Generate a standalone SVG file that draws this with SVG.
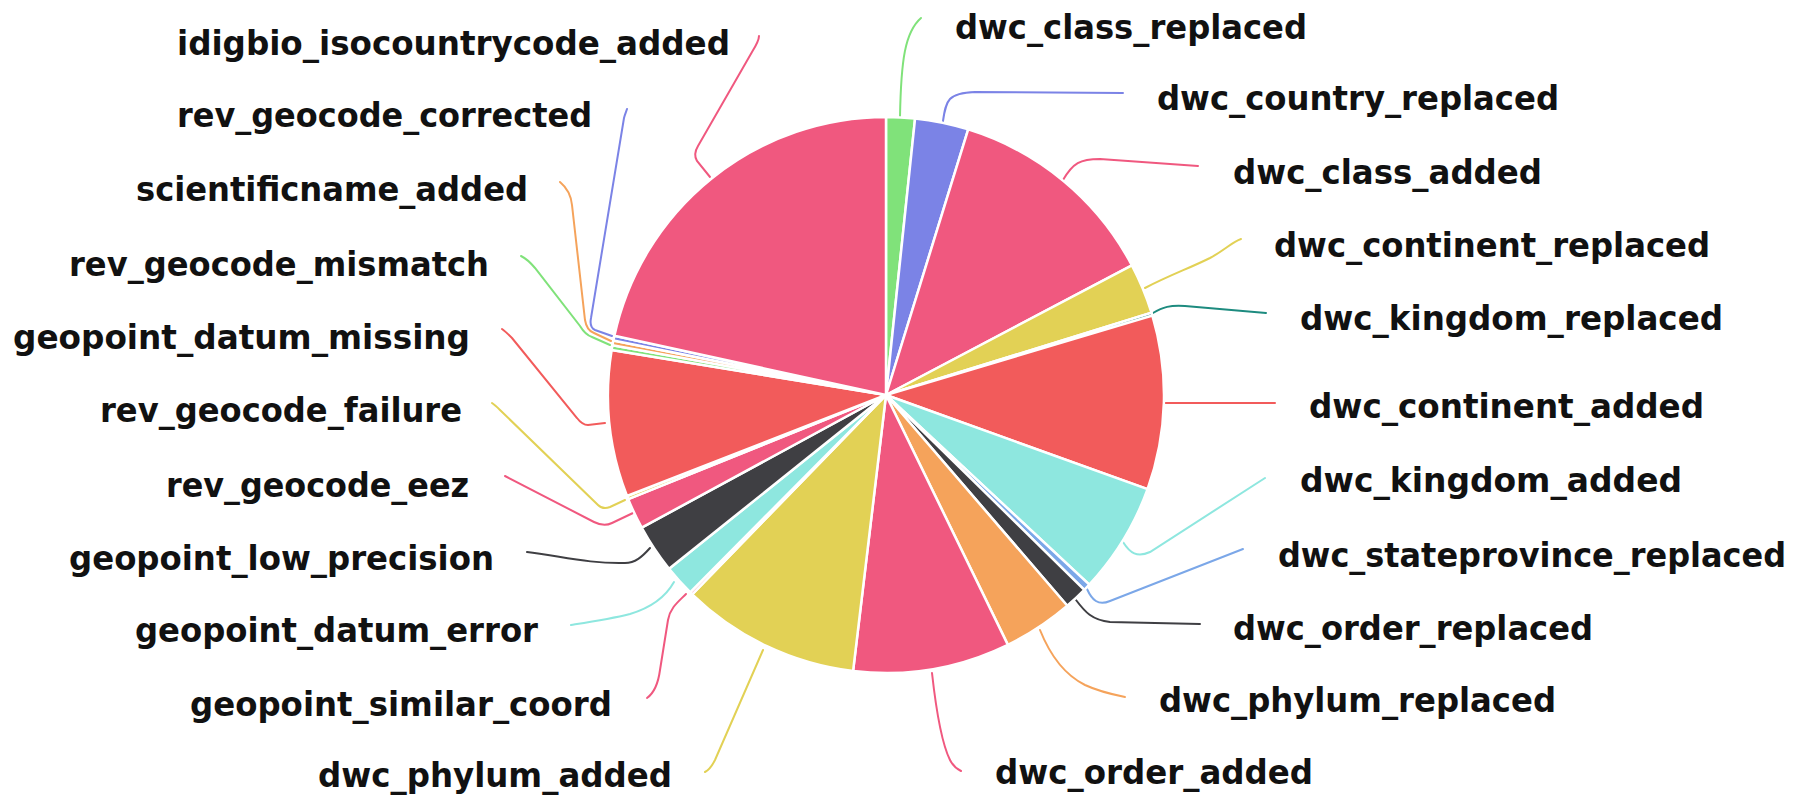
<svg xmlns="http://www.w3.org/2000/svg" width="1804" height="800" viewBox="0 0 1804 800">
<style>
.s{stroke:#fff;stroke-width:2.5;stroke-linejoin:round}
.t{font-family:"DejaVu Sans Condensed","DejaVu Sans","Liberation Sans",sans-serif;font-stretch:condensed;font-weight:bold;font-size:33px;fill:#111}
.l{fill:none;stroke-width:2;stroke-linecap:round}
.pk{fill:#f0587f}.gr{fill:#80e27a}.bp{fill:#7b83e6}.ye{fill:#e2d155}.rd{fill:#f25b5b}.cy{fill:#8ee7df}.dk{fill:#3f3f43}.or{fill:#f5a35b}.tl{fill:#1d8b7f}.lb{fill:#7ba7e8}
</style>
<rect width="1804" height="800" fill="#fff"/>
<g id="connectors">
<path class="l" stroke="#80e27a" d="M900,117 C901,60 905,32 921,18"/>
<path class="l" stroke="#7b83e6" d="M943,121 C946,100 948,93 975,92 L1123,93"/>
<path class="l" stroke="#f0587f" d="M1063,180 C1073,163 1080,159 1100,159 L1198,166"/>
<path class="l" stroke="#e2d155" d="M1145,288 C1170,275 1190,268 1210,258 C1225,250 1232,242 1241,239"/>
<path class="l" stroke="#1d8b7f" d="M1153,313 C1163,307 1170,305 1185,306 L1266,313"/>
<path class="l" stroke="#f25b5b" d="M1164,403 L1275,403"/>
<path class="l" stroke="#8ee7df" d="M1123,542 C1130,553 1137,558 1150,552 L1265,478"/>
<path class="l" stroke="#7ba7e8" d="M1087,589 C1092,600 1098,606 1110,601 L1243,549"/>
<path class="l" stroke="#3f3f43" d="M1076,600 C1085,612 1092,620 1110,622 L1200,624"/>
<path class="l" stroke="#f5a35b" d="M1040,630 C1050,655 1065,675 1085,685 C1100,692 1115,695 1125,697"/>
<path class="l" stroke="#f0587f" d="M932,673 C935,700 940,740 950,760 C953,766 957,769 961,771"/>
<path class="l" stroke="#e2d155" d="M763,650 L715,760 C712,766 709,770 705,772"/>
<path class="l" stroke="#f0587f" d="M686,594 C678,602 670,608 668,620 L660,670 C658,685 654,693 647,698"/>
<path class="l" stroke="#8ee7df" d="M674,582 C665,598 650,608 630,614 C610,619 590,622 571,625"/>
<path class="l" stroke="#3f3f43" d="M527,552 C560,556 590,564 625,563 C635,563 642,557 650,548"/>
<path class="l" stroke="#f0587f" d="M633,513 L612,523 C606,526 600,525 594,522 L505,476"/>
<path class="l" stroke="#e2d155" d="M625,500 L610,507 C605,509 601,508 598,505 L500,410 C497,407 495,405 492,403"/>
<path class="l" stroke="#f25b5b" d="M605,423 L588,425 C583,425 580,422 577,418 L512,338 C508,334 505,331 502,329"/>
<path class="l" stroke="#80e27a" d="M610,345 L592,337 C586,335 583,331 580,326 L535,268 C530,262 525,258 521,256"/>
<path class="l" stroke="#f5a35b" d="M611,341 L594,333 C588,331 586,326 585,320 L572,205 C571,195 566,187 560,182"/>
<path class="l" stroke="#7b83e6" d="M612,336 L595,330 C591,328 590,323 591,318 L624,118 C625,114 626,112 627,109"/>
<path class="l" stroke="#f0587f" d="M710,177 L697,161 C694,156 695,151 698,146 L752,52 C757,44 759,40 759,36"/>
</g>
<g id="n-dwc_class_replaced"><path class="s gr" d="M886,395 L886,117 A278,278 0 0 1 915.06,118.52 Z"/><text class="t" x="955" y="39" textLength="352" lengthAdjust="spacingAndGlyphs">dwc_class_replaced</text></g>
<g id="n-dwc_country_replaced"><path class="s bp" d="M886,395 L915.06,118.52 A278,278 0 0 1 968.21,129.43 Z"/><text class="t" x="1157" y="110" textLength="402" lengthAdjust="spacingAndGlyphs">dwc_country_replaced</text></g>
<g id="n-dwc_class_added"><path class="s pk" d="M886,395 L968.21,129.43 A278,278 0 0 1 1131.91,265.35 Z"/><text class="t" x="1233" y="184" textLength="309" lengthAdjust="spacingAndGlyphs">dwc_class_added</text></g>
<g id="n-dwc_continent_replaced"><path class="s ye" d="M886,395 L1131.91,265.35 A278,278 0 0 1 1151.57,312.79 Z"/><text class="t" x="1274" y="257" textLength="436" lengthAdjust="spacingAndGlyphs">dwc_continent_replaced</text></g>
<g id="n-dwc_kingdom_replaced"><path class="s tl" d="M886,395 L1151.57,312.79 A278,278 0 0 1 1152.41,315.58 Z"/><text class="t" x="1300" y="330" textLength="423" lengthAdjust="spacingAndGlyphs">dwc_kingdom_replaced</text></g>
<g id="n-dwc_continent_added"><path class="s rd" d="M886,395 L1152.41,315.58 A278,278 0 0 1 1147.56,489.17 Z"/><text class="t" x="1309" y="418" textLength="395" lengthAdjust="spacingAndGlyphs">dwc_continent_added</text></g>
<g id="n-dwc_kingdom_added"><path class="s cy" d="M886,395 L1147.56,489.17 A278,278 0 0 1 1089.32,584.60 Z"/><text class="t" x="1300" y="492" textLength="382" lengthAdjust="spacingAndGlyphs">dwc_kingdom_added</text></g>
<g id="n-dwc_stateprovince_replaced"><path class="s lb" d="M886,395 L1089.32,584.60 A278,278 0 0 1 1084.28,589.85 Z"/><text class="t" x="1278" y="567" textLength="508" lengthAdjust="spacingAndGlyphs">dwc_stateprovince_replaced</text></g>
<g id="n-dwc_order_replaced"><path class="s dk" d="M886,395 L1084.28,589.85 A278,278 0 0 1 1067.28,605.76 Z"/><text class="t" x="1233" y="640" textLength="360" lengthAdjust="spacingAndGlyphs">dwc_order_replaced</text></g>
<g id="n-dwc_phylum_replaced"><path class="s or" d="M886,395 L1067.28,605.76 A278,278 0 0 1 1007.87,644.86 Z"/><text class="t" x="1159" y="712" textLength="397" lengthAdjust="spacingAndGlyphs">dwc_phylum_replaced</text></g>
<g id="n-dwc_order_added"><path class="s pk" d="M886,395 L1007.87,644.86 A278,278 0 0 1 853.08,671.04 Z"/><text class="t" x="995" y="784" textLength="318" lengthAdjust="spacingAndGlyphs">dwc_order_added</text></g>
<g id="n-dwc_phylum_added"><path class="s ye" d="M886,395 L853.08,671.04 A278,278 0 0 1 692.19,594.30 Z"/><text class="t" x="318" y="787" textLength="354" lengthAdjust="spacingAndGlyphs">dwc_phylum_added</text></g>
<g id="n-geopoint_similar_coord"><path class="s pk" d="M886,395 L692.19,594.30 A278,278 0 0 1 690.11,592.26 Z"/><text class="t" x="190" y="716" textLength="422" lengthAdjust="spacingAndGlyphs">geopoint_similar_coord</text></g>
<g id="n-geopoint_datum_error"><path class="s cy" d="M886,395 L690.11,592.26 A278,278 0 0 1 669.04,568.82 Z"/><text class="t" x="135" y="642" textLength="403" lengthAdjust="spacingAndGlyphs">geopoint_datum_error</text></g>
<g id="n-geopoint_low_precision"><path class="s dk" d="M886,395 L669.04,568.82 A278,278 0 0 1 641.69,527.65 Z"/><text class="t" x="69" y="570" textLength="425" lengthAdjust="spacingAndGlyphs">geopoint_low_precision</text></g>
<g id="n-rev_geocode_eez"><path class="s pk" d="M886,395 L641.69,527.65 A278,278 0 0 1 628.24,499.14 Z"/><text class="t" x="166" y="497" textLength="303" lengthAdjust="spacingAndGlyphs">rev_geocode_eez</text></g>
<g id="n-rev_geocode_failure"><path class="s ye" d="M886,395 L628.24,499.14 A278,278 0 0 1 626.99,495.98 Z"/><text class="t" x="100" y="422" textLength="362" lengthAdjust="spacingAndGlyphs">rev_geocode_failure</text></g>
<g id="n-geopoint_datum_missing"><path class="s rd" d="M886,395 L626.99,495.98 A278,278 0 0 1 611.65,350.08 Z"/><text class="t" x="13" y="349" textLength="457" lengthAdjust="spacingAndGlyphs">geopoint_datum_missing</text></g>
<g id="n-rev_geocode_mismatch"><path class="s gr" d="M886,395 L611.65,350.08 A278,278 0 0 1 612.48,345.29 Z"/><text class="t" x="69" y="276" textLength="420" lengthAdjust="spacingAndGlyphs">rev_geocode_mismatch</text></g>
<g id="n-scientificname_added"><path class="s or" d="M886,395 L612.48,345.29 A278,278 0 0 1 613.39,340.53 Z"/><text class="t" x="136" y="201" textLength="392" lengthAdjust="spacingAndGlyphs">scientificname_added</text></g>
<g id="n-rev_geocode_corrected"><path class="s bp" d="M886,395 L613.39,340.53 A278,278 0 0 1 614.38,335.78 Z"/><text class="t" x="177" y="127" textLength="415" lengthAdjust="spacingAndGlyphs">rev_geocode_corrected</text></g>
<g id="n-idigbio_isocountrycode_added"><path class="s pk" d="M886,395 L614.38,335.78 A278,278 0 0 1 886,117 Z"/><text class="t" x="177" y="55" textLength="553" lengthAdjust="spacingAndGlyphs">idigbio_isocountrycode_added</text></g>
</svg>
